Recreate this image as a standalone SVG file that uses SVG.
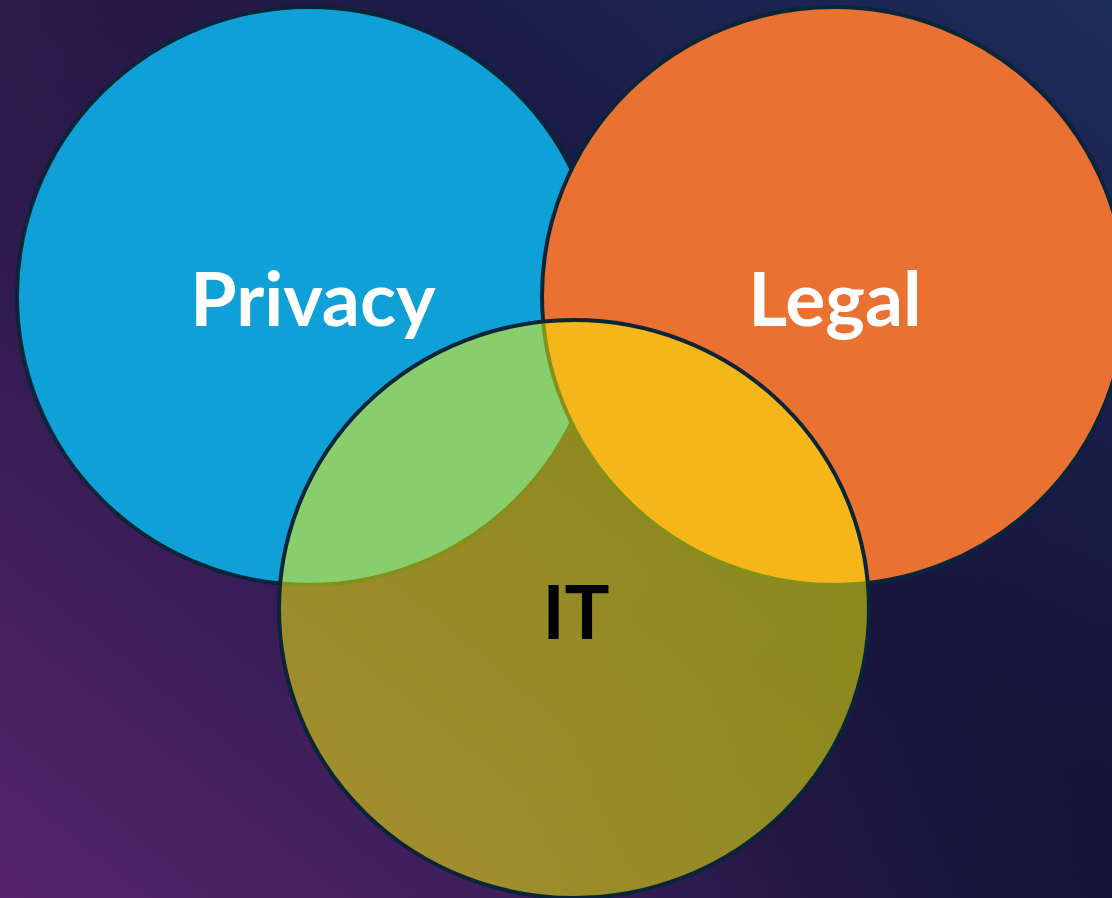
<svg xmlns="http://www.w3.org/2000/svg" width="1112" height="898" viewBox="0 0 1112 898">
  <defs>
    <linearGradient id="bg" x1="0" y1="1" x2="1" y2="0">
      <stop offset="0" stop-color="#56246e"/>
      <stop offset="0.55" stop-color="#1d1642"/>
      <stop offset="1" stop-color="#1b2b58"/>
    </linearGradient>
    <radialGradient id="shade" cx="1112" cy="898" r="600" gradientUnits="userSpaceOnUse">
      <stop offset="0" stop-color="#0c1430" stop-opacity="0.7"/>
      <stop offset="1" stop-color="#0c1430" stop-opacity="0"/>
    </radialGradient>
    <radialGradient id="tint" cx="0" cy="0" r="500" gradientUnits="userSpaceOnUse">
      <stop offset="0" stop-color="#2e1a4c" stop-opacity="0.8"/>
      <stop offset="1" stop-color="#2e1a4c" stop-opacity="0"/>
    </radialGradient>
  </defs>
  <style>
    .ring { stroke: #0a2538; stroke-width: 4; }
    .label { font-family: Lato, "Liberation Sans", sans-serif; font-weight: 700; font-size: 75px; text-anchor: middle; }
  </style>
  <rect width="1112" height="898" fill="url(#bg)"/>
  <rect width="1112" height="898" fill="url(#shade)"/>
  <rect width="1112" height="898" fill="url(#tint)"/>
  <g id="privacy">
    <ellipse class="ring" cx="309" cy="296" rx="292" ry="289" fill="#10a0d8"/>
    <text class="label" x="313" y="326" fill="#ffffff">Privacy</text>
  </g>
  <g id="legal">
    <ellipse class="ring" cx="834" cy="296" rx="292" ry="289" fill="#e97132"/>
    <text class="label" x="835" y="326" fill="#ffffff">Legal</text>
  </g>
  <g id="it">
    <ellipse class="ring" cx="574" cy="609" rx="295" ry="289" fill="#fffc00" fill-opacity="0.5"/>
    <text class="label" x="576" y="639" fill="#000000">IT</text>
  </g>
  <g id="connectors"/>
</svg>
